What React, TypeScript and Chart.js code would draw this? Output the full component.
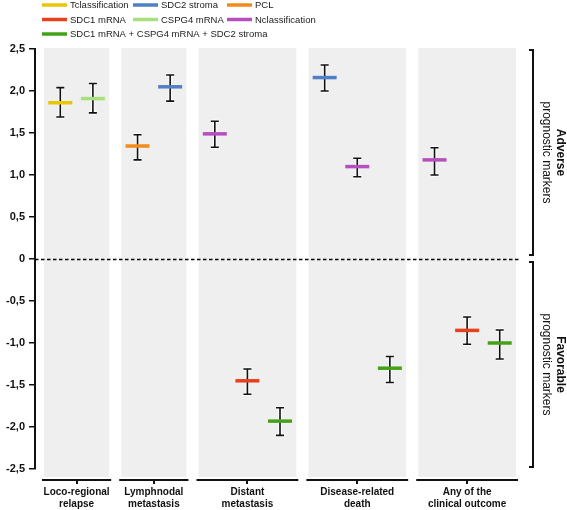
import React, { useEffect, useRef } from 'react';
import { Chart, registerables } from 'chart.js';

Chart.register(...registerables);

// ---- data ----
const categories: string[][] = [
  ['Loco-regional', 'relapse'],
  ['Lymphnodal', 'metastasis'],
  ['Distant', 'metastasis'],
  ['Disease-related', 'death'],
  ['Any of the', 'clinical outcome'],
];
const slotsPerCategory = [2, 2, 3, 3, 3];
const seriesLabels = [
  'Tclassification',
  'SDC2 stroma',
  'PCL',
  'SDC1 mRNA',
  'CSPG4 mRNA',
  'Nclassification',
  'SDC1 mRNA + CSPG4 mRNA + SDC2 stroma',
];
const seriesColors = ['#e8c600', '#4f7fc4', '#f28a1c', '#e8401f', '#a9e07e', '#b64fbd', '#44a219'];

const markerSeries = [0, 4, 2, 1, 5, 3, 6, 1, 5, 6, 5, 3, 6];
const markerCategory = [0, 0, 1, 1, 2, 2, 2, 3, 3, 3, 4, 4, 4];
const markerSlot = [0, 1, 0, 1, 0, 1, 2, 0, 1, 2, 0, 1, 2];
const markerMean = [1.86, 1.91, 1.345, 2.05, 1.49, -1.45, -1.93, 2.16, 1.1, -1.3, 1.18, -0.85, -1.0];
const markerLow = [1.69, 1.74, 1.18, 1.88, 1.33, -1.61, -2.1, 2.0, 0.98, -1.47, 1.0, -1.015, -1.19];
const markerHigh = [2.04, 2.09, 1.48, 2.19, 1.64, -1.31, -1.77, 2.31, 1.2, -1.16, 1.325, -0.69, -0.845];

const sideLabels: string[][] = [
  ['Adverse', 'prognostic markers'],
  ['Favorable', 'prognostic markers'],
];

// ---- layout helpers ----
const GAP = 0.37;
const categoryStart: number[] = [];
{
  let acc = 0;
  slotsPerCategory.forEach((n, i) => {
    categoryStart.push(acc);
    acc += n + GAP;
  });
}
const categoryCenter = categoryStart.map((s, i) => s + slotsPerCategory[i] / 2);
const totalUnits = categoryStart[categoryStart.length - 1] + slotsPerCategory[slotsPerCategory.length - 1];

const FONT = "Arial, 'Liberation Sans', Helvetica, sans-serif";

const datasets = seriesLabels.map((label, s) => {
  const data: any[] = [];
  markerSeries.forEach((ms, i) => {
    if (ms !== s) return;
    data.push({
      x: categoryStart[markerCategory[i]] + markerSlot[i] + 0.5,
      y: markerMean[i],
      low: markerLow[i],
      high: markerHigh[i],
    });
  });
  return {
    label,
    data,
    pointStyle: 'line',
    pointRadius: 12,
    pointHoverRadius: 12,
    pointBorderWidth: 3.5,
    pointHoverBorderWidth: 3.5,
    borderColor: seriesColors[s],
    backgroundColor: seriesColors[s],
    showLine: false,
  };
});

const backgroundPlugin = {
  id: 'panels',
  beforeDatasetsDraw(chart: any) {
    const { ctx, chartArea, scales } = chart;
    const xs = scales.x;
    const ys = scales.y;
    ctx.save();
    ctx.fillStyle = '#efefef';
    categoryStart.forEach((s, i) => {
      const x0 = xs.getPixelForValue(s);
      const x1 = xs.getPixelForValue(s + slotsPerCategory[i]);
      ctx.fillRect(x0, chartArea.top - 1, x1 - x0, chartArea.bottom + 8 - (chartArea.top - 1));
    });
    // zero line
    const y0 = Math.round(ys.getPixelForValue(0)) + 0.5;
    ctx.strokeStyle = '#000';
    ctx.lineWidth = 1.3;
    ctx.setLineDash([3.5, 2.5]);
    ctx.beginPath();
    ctx.moveTo(chartArea.left, y0);
    ctx.lineTo(chartArea.right, y0);
    ctx.stroke();
    ctx.setLineDash([]);

    // error bars
    chart.data.datasets.forEach((ds: any, di: number) => {
      const meta = chart.getDatasetMeta(di);
      ds.data.forEach((d: any, j: number) => {
        const px = meta.data[j].x;
        const yl = ys.getPixelForValue(d.low);
        const yh = ys.getPixelForValue(d.high);
        const cap = 4;
        for (const pass of [0, 1]) {
          ctx.strokeStyle = pass === 0 ? '#ffffff' : '#111';
          ctx.lineWidth = pass === 0 ? 3.5 : 1.6;
          ctx.beginPath();
          ctx.moveTo(px, yl);
          ctx.lineTo(px, yh);
          ctx.moveTo(px - cap, yl);
          ctx.lineTo(px + cap, yl);
          ctx.moveTo(px - cap, yh);
          ctx.lineTo(px + cap, yh);
          ctx.stroke();
        }
      });
    });
    ctx.restore();
  },
  afterDraw(chart: any) {
    const { ctx, chartArea, scales } = chart;
    const xs = scales.x;
    const ys = scales.y;
    ctx.save();
    // x-axis segments
    const ySeg = chartArea.bottom + 11;
    ctx.strokeStyle = '#111';
    ctx.lineWidth = 2;
    categoryStart.forEach((s, i) => {
      const x0 = xs.getPixelForValue(s) - 2;
      const x1 = xs.getPixelForValue(s + slotsPerCategory[i]) + 2;
      ctx.beginPath();
      ctx.moveTo(x0, ySeg);
      ctx.lineTo(x1, ySeg);
      const xc = Math.round(xs.getPixelForValue(categoryCenter[i]));
      ctx.moveTo(xc, ySeg);
      ctx.lineTo(xc, ySeg + 4);
      ctx.stroke();
    });

    // right brackets
    const bx = chartArea.right + 12;
    const spans = [
      [ys.getPixelForValue(ys.max) + 1, ys.getPixelForValue(0) - 4],
      [ys.getPixelForValue(0) + 3, ys.getPixelForValue(ys.min) - 2],
    ];
    spans.forEach(([t, b], k) => {
      ctx.strokeStyle = '#111';
      ctx.lineWidth = 2;
      ctx.beginPath();
      ctx.moveTo(bx - 4, t);
      ctx.lineTo(bx, t);
      ctx.lineTo(bx, b);
      ctx.lineTo(bx - 4, b);
      ctx.stroke();
      const cy = (t + b) / 2;
      ctx.save();
      ctx.translate(bx + 20, cy);
      ctx.rotate(Math.PI / 2);
      ctx.fillStyle = '#111';
      ctx.textAlign = 'center';
      ctx.textBaseline = 'middle';
      ctx.font = `bold 12px ${FONT}`;
      ctx.fillText(sideLabels[k][0], 0, -7);
      ctx.font = `12px ${FONT}`;
      ctx.fillText(sideLabels[k][1], 0, 7);
      ctx.restore();
    });

    // legend
    const colX = [42, 133, 227];
    const rowY = [5, 19.5, 34];
    ctx.font = `9.5px ${FONT}`;
    ctx.textBaseline = 'middle';
    ctx.textAlign = 'left';
    seriesLabels.forEach((lab, s) => {
      const c = s % 3;
      const r = Math.floor(s / 3);
      const x = colX[c];
      const y = rowY[r];
      ctx.strokeStyle = seriesColors[s];
      ctx.lineWidth = 3.5;
      ctx.beginPath();
      ctx.moveTo(x, y);
      ctx.lineTo(x + 25, y);
      ctx.stroke();
      ctx.fillStyle = '#222';
      ctx.fillText(lab, x + 28, y + 0.5);
    });
    ctx.restore();
  },
};

export default function App() {
  const ref = useRef<HTMLCanvasElement | null>(null);
  useEffect(() => {
    if (!ref.current) return;
    const chart = new Chart(ref.current, {
      type: 'scatter',
      data: { datasets: datasets as any },
      options: {
        animation: false,
        responsive: false,
        events: [],
        layout: { padding: { top: 49, right: 46, bottom: 0, left: 0 } },
        plugins: {
          legend: { display: false },
          tooltip: { enabled: false },
        },
        scales: {
          x: {
            type: 'linear',
            min: -0.276,
            max: totalUnits + 0.153,
            afterBuildTicks: (scale: any) => {
              scale.ticks = categoryCenter.map((v) => ({ value: v }));
            },
            afterFit: (scale: any) => {
              scale.height = 41;
            },
            grid: { display: false, drawTicks: false },
            border: { display: false },
            ticks: {
              autoSkip: false,
              maxRotation: 0,
              padding: 17,
              color: '#111',
              font: { family: FONT, size: 10, weight: 'bold', lineHeight: 1.2 },
              callback: (_v: any, i: number) => categories[i],
            },
          },
          y: {
            min: -2.5,
            max: 2.5,
            afterFit: (scale: any) => {
              scale.width = 35;
            },
            grid: {
              drawOnChartArea: false,
              drawTicks: true,
              tickLength: 6,
              color: '#111',
              lineWidth: 1.5,
            },
            border: { display: true, color: '#111', width: 2 },
            ticks: {
              stepSize: 0.5,
              padding: 4,
              color: '#111',
              font: { family: FONT, size: 11, weight: 'bold' },
              callback: (v: any) => (v === 0 ? '0' : Number(v).toFixed(1).replace('.', ',')),
            },
          },
        },
      },
      plugins: [backgroundPlugin],
    });
    return () => chart.destroy();
  }, []);
  return (
    <div style={{ position: 'fixed', left: 0, top: 0, width: 567, height: 510, background: '#fff' }}>
      <canvas ref={ref} width={567} height={510} style={{ display: 'block' }} />
    </div>
  );
}
